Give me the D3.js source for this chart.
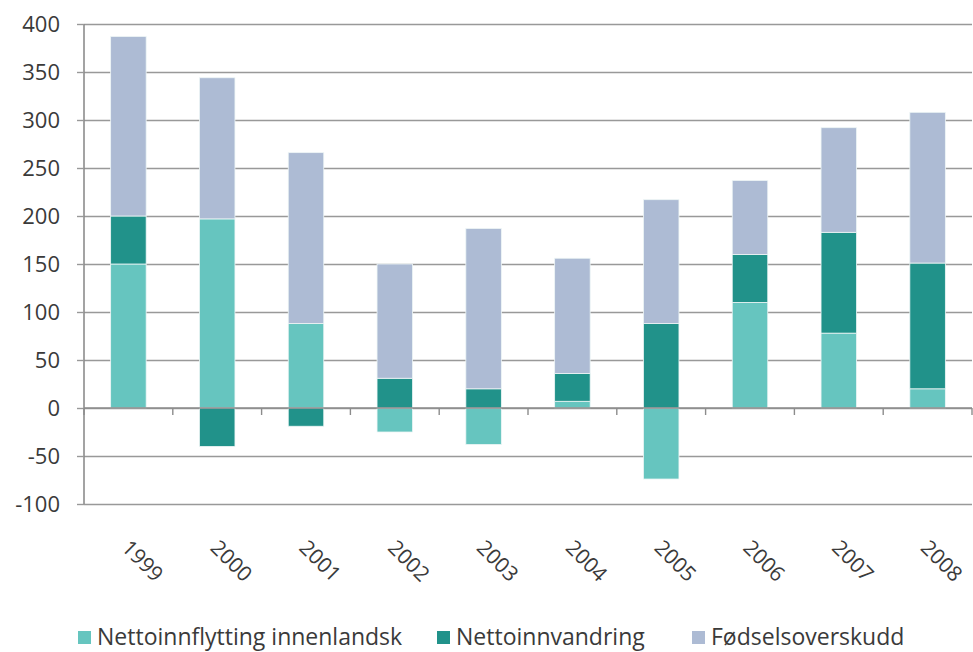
<!DOCTYPE html>
<html>
<head>
<meta charset="utf-8">
<script src="https://cdn.jsdelivr.net/npm/d3@7"></script>
<style>
  body { margin: 0; background: #fff; }
  text { font-family: "Open Sans", sans-serif; fill: #3a3a3a; }
</style>
</head>
<body>
<svg id="chart" width="973" height="652"></svg>
<script>
// chart data
const years = ['1999', '2000', '2001', '2002', '2003', '2004', '2005', '2006', '2007', '2008'];
const innenlandsk = [150, 197, 88, -25, -38, 7, -74, 110, 78, 20];
const innvandring = [50, -40, -19, 31, 20, 29, 88, 50, 105, 131];
const fodsel = [187, 147, 178, 119, 167, 120, 129, 77, 109, 157];
const seriesNames = ['Nettoinnflytting innenlandsk', 'Nettoinnvandring', 'Fødselsoverskudd'];
const yTicks = [-100, -50, 0, 50, 100, 150, 200, 250, 300, 350, 400];

const colors = ['#66c5bf', '#21928a', '#adbbd4'];

const svg = d3.select('#chart');
const margin = {top: 24, left: 84, right: 1, bottom: 148};
const width = 973 - margin.left - margin.right;
const height = 652 - margin.top - margin.bottom;

const rows = years.map(function(y, i) {
  return {year: y, a: innenlandsk[i], b: innvandring[i], c: fodsel[i]};
});

const x = d3.scaleBand().domain(years).range([0, width]).paddingInner(0.6).paddingOuter(0.3);
const y = d3.scaleLinear().domain([-100, 400]).range([height, 0]);

const g = svg.append('g')
  .attr('transform', 'translate(' + margin.left + ',' + margin.top + ')');

// gridlines
g.append('g')
  .attr('class', 'grid')
  .call(d3.axisLeft(y).tickValues(yTicks).tickSize(-width).tickFormat(''))
  .call(function(s) { s.select('.domain').remove(); })
  .selectAll('line')
  .attr('stroke', '#999')
  .attr('stroke-width', 1.4);

// y axis (plain hyphen for negatives, like the original)
g.append('g')
  .call(d3.axisLeft(y).tickValues(yTicks).tickSize(7).tickPadding(17).tickFormat(function(d) { return String(d); }))
  .call(function(s) {
    s.select('.domain').attr('stroke', '#8c8c8c').attr('stroke-width', 1.6).attr('d', 'M0,' + height + 'V0');
    s.selectAll('line').attr('stroke', '#999').attr('stroke-width', 1.4);
    s.selectAll('text').style('font-size', '22px').style('fill', '#3a3a3a');
  });

// stacked bars
const stack = d3.stack().keys(['a', 'b', 'c']).offset(d3.stackOffsetDiverging);
const layers = stack(rows);

g.selectAll('.layer')
  .data(layers)
  .enter().append('g')
  .attr('class', 'layer')
  .attr('fill', function(d, i) { return colors[i]; })
  .selectAll('rect')
  .data(function(d) { return d; })
  .enter().append('rect')
  .attr('x', function(d) { return x(d.data.year); })
  .attr('width', x.bandwidth())
  .attr('y', function(d) { return y(Math.max(d[0], d[1])); })
  .attr('height', function(d) { return Math.abs(y(d[0]) - y(d[1])); })
  .attr('stroke', '#eef6f6')
  .attr('stroke-width', 0.8);

// zero axis with category boundary ticks
const zero = g.append('g').attr('transform', 'translate(0,' + y(0) + ')');
zero.append('line')
  .attr('x1', 0).attr('x2', width)
  .attr('stroke', '#8c8c8c').attr('stroke-width', 1.6);
const bounds = years.map(function(d) { return x(d) + x.bandwidth() / 2 - x.step() / 2; }).concat([width]);
zero.selectAll('.tick')
  .data(bounds)
  .enter().append('line')
  .attr('x1', function(d) { return d; })
  .attr('x2', function(d) { return d; })
  .attr('y1', 0).attr('y2', 7)
  .attr('stroke', '#8c8c8c').attr('stroke-width', 1.4);

// rotated year labels
g.selectAll('.xlabel')
  .data(years)
  .enter().append('text')
  .attr('class', 'xlabel')
  .attr('transform', function(d) {
    return 'translate(' + (x(d) + x.bandwidth() / 2 - 8) + ',' + (y(-100) + 45) + ')rotate(45)';
  })
  .style('font-size', '21px')
  .text(function(d) { return d; });

// legend
const legendX = [78, 437, 692];
const legend = svg.append('g');
seriesNames.forEach(function(name, i) {
  legend.append('rect')
    .attr('x', legendX[i]).attr('y', 631)
    .attr('width', 13).attr('height', 13)
    .attr('fill', colors[i]);
  legend.append('text')
    .attr('x', legendX[i] + 19).attr('y', 645)
    .style('font-size', '23px')
    .text(name);
});
</script>
</body>
</html>
